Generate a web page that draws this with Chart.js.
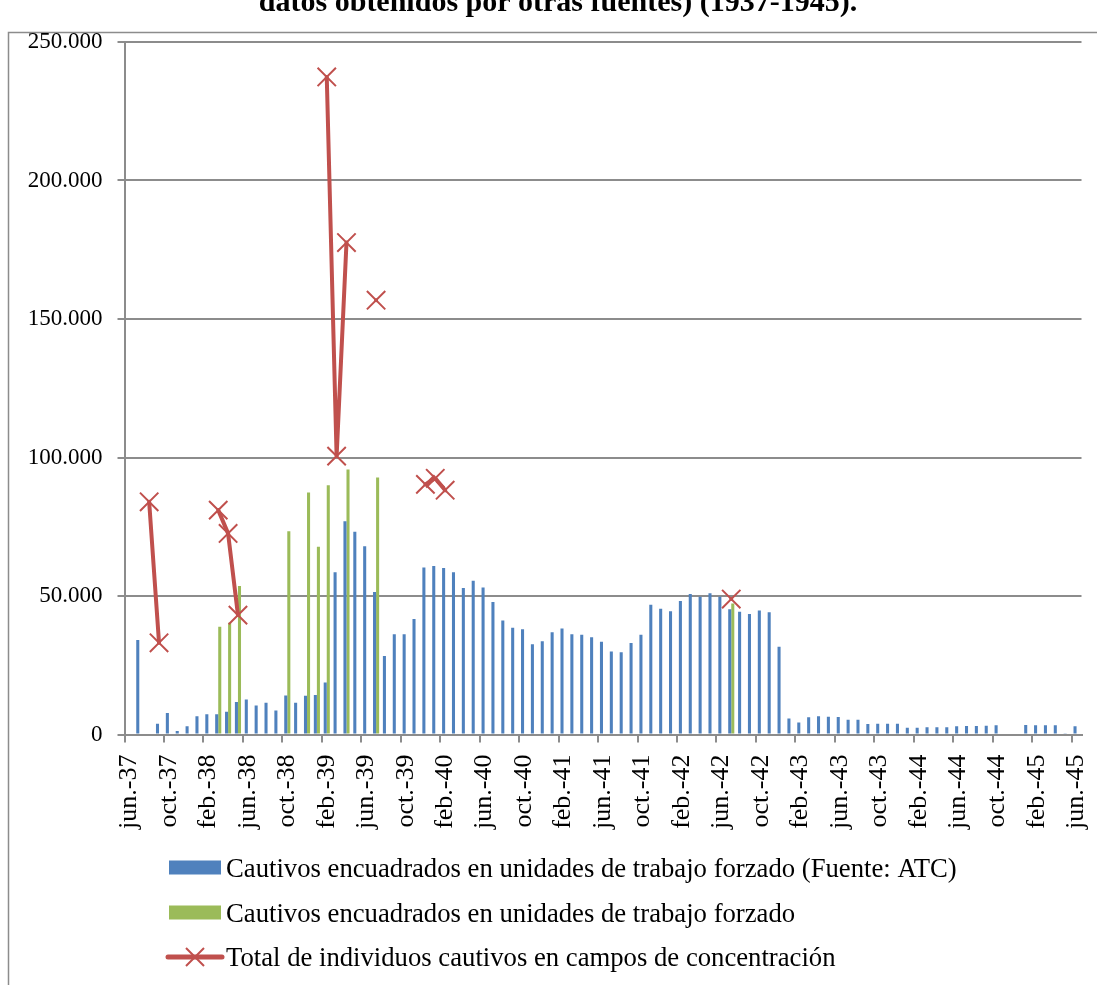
<!DOCTYPE html>
<html lang="es">
<head>
<meta charset="utf-8">
<title>Cautivos en campos de concentración y unidades de trabajo forzado (1937-1945)</title>
<script src="https://cdn.jsdelivr.net/npm/chart.js@4.4.1/dist/chart.umd.min.js"></script>
<style>
  html, body { margin: 0; padding: 0; background: #fff; }
  #wrap { position: relative; width: 1097px; height: 985px; }
</style>
</head>
<body>
<div id="wrap"><canvas id="cautivosChart" width="1097" height="985"></canvas></div>
<script>
// Meses de jun.-37 a jun.-45
const meses = ['ene.', 'feb.', 'mar.', 'abr.', 'may.', 'jun.', 'jul.', 'ago.', 'sep.', 'oct.', 'nov.', 'dic.'];
const categorias = [];
for (let a = 37; a <= 45; a++) {
  for (let m = 0; m < 12; m++) {
    if ((a === 37 && m < 5) || (a === 45 && m > 5)) continue;
    categorias.push(meses[m] + '-' + a);
  }
}

// Cautivos encuadrados en unidades de trabajo forzado (Fuente: ATC)
const cautivosATC = [
  null, 34100, 400, 3900, 7800, 1300, 3000,                 // jun-dic 37
  6600, 7300, 7300, 8200, 11700, 12600, 10500, 11500, 8700, 14100, 11500, 14000,   // 38
  14300, 18800, 58600, 77000, 73200, 68000, 51400, 28300, 36200, 36200, 41700, 60300, // 39
  60800, 60100, 58600, 52900, 55500, 53100, 47800, 41200, 38500, 38000, 32600, 33700, // 40
  36900, 38300, 36200, 36000, 35100, 33500, 30000, 29700, 33000, 36000, 46800, 45400, // 41
  44500, 48200, 50700, 49700, 51000, 49700, 45200, 44300, 43500, 44800, 44100, 31700, // 42
  5800, 4300, 6200, 6600, 6400, 6300, 5300, 5300, 3800, 3900, 3900, 3900,           // 43
  2400, 2400, 2600, 2600, 2600, 3000, 3100, 3100, 3200, 3300, null, null,            // 44
  3400, 3300, 3300, 3300, 300, 3000                                                  // ene-jun 45
];

// Cautivos encuadrados en unidades de trabajo forzado (otras fuentes)
const cautivosOtras = new Array(categorias.length).fill(null);
const otrasMes = ['mar.-38', 'abr.-38', 'may.-38', 'oct.-38', 'dic.-38', 'ene.-39', 'feb.-39', 'abr.-39', 'jul.-39', 'jul.-42'];
const otrasValor = [38900, 40300, 53600, 73400, 87400, 67800, 90000, 95700, 92800, 47300];
otrasMes.forEach((m, i) => { cautivosOtras[categorias.indexOf(m)] = otrasValor[i]; });

// Total de individuos cautivos en campos de concentración
const camposTotal = new Array(categorias.length).fill(null);
const camposMes = ['ago.-37', 'sep.-37', 'mar.-38', 'abr.-38', 'may.-38', 'feb.-39', 'mar.-39', 'abr.-39', 'jul.-39', 'dic.-39', 'ene.-40', 'feb.-40', 'jul.-42'];
const camposValor = [84000, 33100, 81000, 72600, 43100, 237400, 100500, 177600, 156800, 90300, 92500, 88200, 48900];
camposMes.forEach((m, i) => { camposTotal[categorias.indexOf(m)] = camposValor[i]; });

const titulo = 'datos obtenidos por otras fuentes) (1937-1945).';
const GRIS = '#8c8c8c';
const AZUL = '#4f81bd';
const VERDE = '#9bbb59';
const ROJO = '#c0504d';

Chart.defaults.font.family = '"Liberation Serif", "Times New Roman", serif';
Chart.defaults.color = '#000';

function miles(v) {
  return String(v).replace(/\B(?=(\d{3})+(?!\d))/g, '.');
}

// fondo, marco, título y leyenda dibujados a mano
const marcoYLeyenda = {
  id: 'marcoYLeyenda',
  beforeDraw(chart) {
    const ctx = chart.ctx;
    ctx.save();
    ctx.fillStyle = '#fff';
    ctx.fillRect(0, 0, chart.width, chart.height);
    ctx.strokeStyle = GRIS;
    ctx.lineWidth = 1.5;
    ctx.beginPath();
    ctx.moveTo(8.5, chart.height);
    ctx.lineTo(8.5, 32.5);
    ctx.lineTo(chart.width, 32.5);
    ctx.stroke();
    ctx.fillStyle = '#000';
    ctx.font = 'bold 30px "Liberation Serif"';
    ctx.textAlign = 'center';
    ctx.textBaseline = 'alphabetic';
    ctx.fillText(titulo, 558, 11);
    ctx.restore();
  },
  afterDraw(chart) {
    const ctx = chart.ctx;
    const ds = chart.data.datasets;
    const filas = [876.5, 921.5, 966];
    ctx.save();
    ctx.font = '26.7px "Liberation Serif"';
    ctx.fillStyle = '#000';
    ctx.textAlign = 'left';
    ctx.textBaseline = 'alphabetic';
    ds.forEach((d, i) => {
      const yb = filas[i];
      const yc = yb - 9;
      if (d.type === 'line') {
        ctx.strokeStyle = d.borderColor;
        ctx.lineWidth = 5;
        ctx.lineCap = 'round';
        ctx.beginPath();
        ctx.moveTo(168, yc);
        ctx.lineTo(222, yc);
        ctx.stroke();
        ctx.lineWidth = 2;
        ctx.lineCap = 'butt';
        ctx.beginPath();
        ctx.moveTo(186, yc - 9); ctx.lineTo(204, yc + 9);
        ctx.moveTo(204, yc - 9); ctx.lineTo(186, yc + 9);
        ctx.stroke();
      } else {
        ctx.fillStyle = d.backgroundColor;
        ctx.fillRect(169, yc - 7, 52, 14);
      }
      ctx.fillStyle = '#000';
      ctx.fillText(d.label, 226, yb);
    });
    ctx.restore();
  }
};

new Chart(document.getElementById('cautivosChart'), {
  type: 'bar',
  data: {
    labels: categorias,
    datasets: [
      {
        label: 'Cautivos encuadrados en unidades de trabajo forzado (Fuente: ATC)',
        data: cautivosATC,
        backgroundColor: AZUL,
        categoryPercentage: 0.62,
        barPercentage: 1.0,
        order: 1,
      },
      {
        label: 'Cautivos encuadrados en unidades de trabajo forzado',
        data: cautivosOtras,
        backgroundColor: VERDE,
        categoryPercentage: 0.62,
        barPercentage: 1.0,
        order: 2,
      },
      {
        type: 'line',
        label: 'Total de individuos cautivos en campos de concentración',
        data: camposTotal,
        borderColor: ROJO,
        backgroundColor: ROJO,
        borderWidth: 4,
        borderJoinStyle: 'round',
        borderCapStyle: 'round',
        tension: 0,
        spanGaps: false,
        pointStyle: 'crossRot',
        pointRadius: 13,
        pointBorderWidth: 2,
        pointBorderColor: ROJO,
        order: 0,
      },
    ],
  },
  options: {
    responsive: false,
    animation: false,
    layout: { padding: { left: 14.5, top: 42, right: 15.5, bottom: 140.5 } },
    plugins: {
      legend: { display: false },
      tooltip: { enabled: false },
    },
    scales: {
      x: {
        offset: true,
        grid: {
          offset: true,
          drawOnChartArea: false,
          drawTicks: true,
          tickLength: 8,
          lineWidth: 2,
          color: (c) => (c.index !== undefined && c.index % 4 === 0 ? GRIS : 'rgba(0,0,0,0)'),
        },
        border: { display: true, color: GRIS, width: 2 },
        ticks: {
          autoSkip: false,
          minRotation: 90,
          maxRotation: 90,
          padding: 12,
          font: { size: 26 },
          callback: (v, i) => (i % 4 === 0 ? categorias[i] : ''),
        },
        afterFit: (s) => { s.height = 110; s.paddingLeft = 0; s.paddingRight = 0; },
      },
      y: {
        min: 0,
        max: 250000,
        grid: { color: GRIS, lineWidth: 2, tickLength: 7 },
        border: { display: true, color: GRIS, width: 2 },
        ticks: {
          stepSize: 50000,
          padding: 15,
          font: { size: 23 },
          callback: (v) => miles(v),
        },
        afterFit: (s) => { s.width = 110; },
      },
    },
  },
  plugins: [marcoYLeyenda],
});
</script>
</body>
</html>
